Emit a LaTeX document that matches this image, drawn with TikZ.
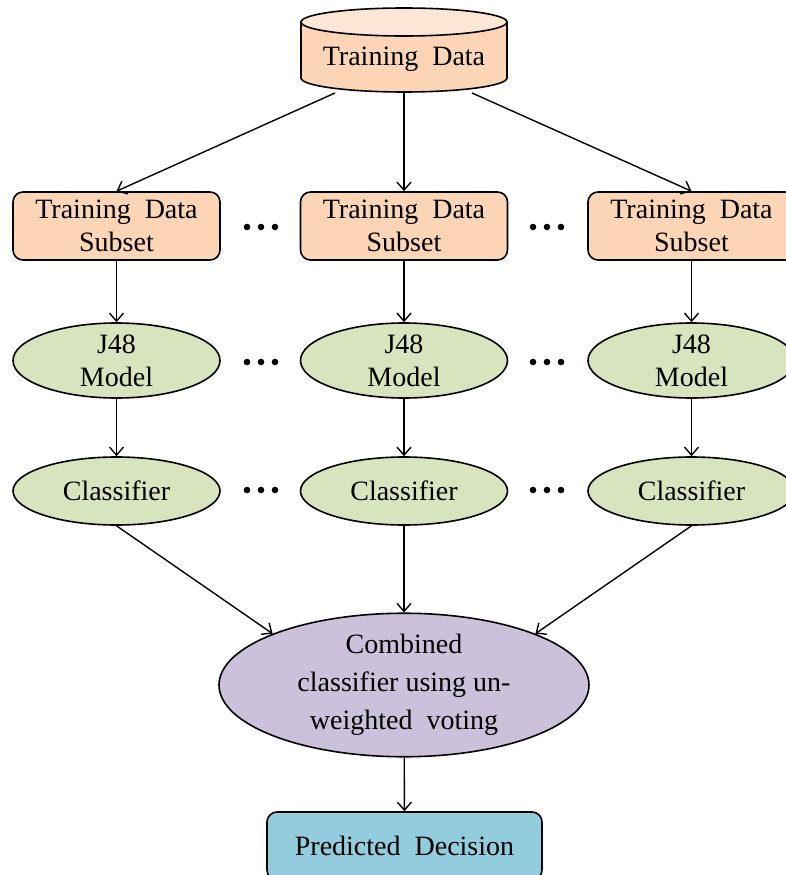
\documentclass[tikz,border=0pt]{standalone}
\usepackage{fontspec}
\setmainfont{Liberation Serif}
\usetikzlibrary{shapes.geometric,arrows.meta}
\definecolor{peach}{HTML}{FBD5B5}
\definecolor{peachlight}{HTML}{FDE6D6}
\definecolor{olivegreen}{HTML}{D7E4BD}
\definecolor{lavender}{HTML}{CCC1DA}
\definecolor{aqua}{HTML}{93CDDD}
\tikzset{
  txt/.style={font=\fontsize{28}{33}\selectfont, align=center, inner sep=0pt},
  subsetbox/.style={txt, rectangle, rounded corners=10pt, draw, line width=1.6pt, fill=peach, minimum width=207pt, minimum height=68pt},
  modelell/.style={txt, ellipse, draw, line width=1.6pt, fill=olivegreen, minimum width=207pt, minimum height=75pt},
  classell/.style={txt, ellipse, draw, line width=1.6pt, fill=olivegreen, minimum width=207pt, minimum height=68pt},
  combell/.style={txt, ellipse, draw, line width=1.6pt, fill=lavender, minimum width=370pt, minimum height=124pt, font=\fontsize{28}{38}\selectfont},
  predbox/.style={txt, rectangle, rounded corners=10pt, draw, line width=1.6pt, fill=aqua, minimum width=275pt, minimum height=68pt},
  conn/.style={-{Straight Barb[length=8pt,width=14pt]}, line width=1.4pt},
  dotmark/.style={fill=black}
}
\begin{document}
\begin{tikzpicture}[x=1pt,y=1pt]
\useasboundingbox (0,0) rectangle (786,-875);
\clip (0,0) rectangle (786,-875);
% cylinder
\fill[peach] (301,-22) -- (301,-78) arc[start angle=180, end angle=360, x radius=103, y radius=14] -- (507,-22) -- cycle;
\draw[line width=1.6pt] (301,-22) -- (301,-78) arc[start angle=180, end angle=360, x radius=103, y radius=14] -- (507,-22);
\draw[line width=1.6pt, fill=peachlight] (404,-22) ellipse[x radius=103, y radius=14];
\node[txt] (td) at (404,-59) {Training\ \ Data};
\coordinate (td1) at (335,-93);
\coordinate (td2) at (404,-92);
\coordinate (td3) at (472,-93);
% subsets
\node[subsetbox] (s1) at (116.5,-226) {Training\ \ Data\\Subset};
\node[subsetbox] (s2) at (404,-226) {Training\ \ Data\\Subset};
\node[subsetbox] (s3) at (691.5,-226) {Training\ \ Data\\Subset};
% models
\node[modelell] (m1) at (116.5,-360.5) {J48\\Model};
\node[modelell] (m2) at (404,-360.5) {J48\\Model};
\node[modelell] (m3) at (691.5,-360.5) {J48\\Model};
% classifiers
\node[classell] (c1) at (116.5,-491) {Classifier};
\node[classell] (c2) at (404,-491) {Classifier};
\node[classell] (c3) at (691.5,-491) {Classifier};
% combined
\node[combell] (comb) at (404,-685) {Combined\\classifier using un-\\weighted\ \ voting};
% predicted
\node[predbox] (pred) at (404.5,-846) {Predicted\ \ Decision};
% dots
\foreach \yy in {-227,-362,-490}{
  \foreach \xx in {247,261,275,533,547,561}{
    \fill[dotmark] (\xx,\yy) circle[radius=3.3pt];
  }
}
% connectors
\draw[conn] (td1) -- (s1.north);
\draw[conn] (td2) -- (s2.north);
\draw[conn] (td3) -- (s3.north);
\draw[conn] (s1) -- (m1);
\draw[conn] (s2) -- (m2);
\draw[conn] (s3) -- (m3);
\draw[conn] (m1) -- (c1);
\draw[conn] (m2) -- (c2);
\draw[conn] (m3) -- (c3);
\draw[conn] (c1.south) -- (comb.north west);
\draw[conn] (c2.south) -- (comb.north);
\draw[conn] (c3.south) -- (comb.north east);
\draw[conn] (comb) -- (pred);
\end{tikzpicture}
\end{document}
